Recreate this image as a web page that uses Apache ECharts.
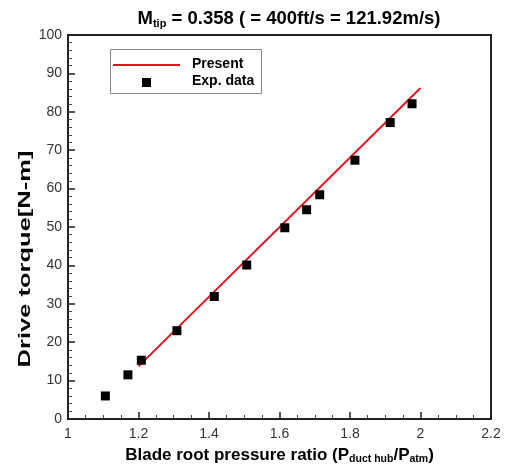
<!DOCTYPE html>
<html><head><meta charset="utf-8">
<script src="https://cdn.jsdelivr.net/npm/echarts@6/dist/echarts.min.js"></script>
<style>html,body{margin:0;padding:0;background:#fff}#c{width:505px;height:470px}</style>
</head><body><div id="c"></div>
<script>
var expX = [1.106, 1.170, 1.208, 1.309, 1.415, 1.507, 1.615, 1.677, 1.714, 1.814, 1.914, 1.976];
var expY = [6.0, 11.5, 15.3, 23.0, 31.9, 40.1, 49.8, 54.5, 58.4, 67.4, 77.2, 82.1];
var presentX = [1.2, 2.0];
var presentY = [13.7, 86.2];
var seriesNames = ['Present', 'Exp. data'];
var yAxisTitle = 'Drive torque[N-m]';

var chart = echarts.init(document.getElementById('c'), null, {renderer:'canvas'});
var F = 'Liberation Sans, Arial, sans-serif';
var opt = {
  animation: false,
  title: {
    text: '{m|M}{s|tip}{t| = 0.358 ( = 400ft/s = 121.92m/s)}',
    left: 284, top: 3, textAlign: 'center',
    textStyle: {
      rich: {
        m: {fontFamily: F, fontWeight: 'bold', fontSize: 18.5, color: '#000'},
        s: {fontFamily: F, fontWeight: 'bold', fontSize: 11, color: '#000', padding: [10, 0, 0, 0]},
        t: {fontFamily: F, fontWeight: 'bold', fontSize: 18.5, color: '#000'}
      }
    }
  },
  grid: {left: 68, right: 14, top: 35, bottom: 50, show: true, borderColor: '#222', borderWidth: 2, backgroundColor: 'transparent'},
  xAxis: {
    type: 'value', min: 1, max: 2.2, interval: 0.2,
    name: '{a|Blade root pressure ratio (P}{s|duct hub}{a|/P}{s|atm}{a|)}',
    nameLocation: 'middle', nameGap: 26,
    nameTextStyle: {rich: {
      a: {fontFamily: F, fontWeight: 'bold', fontSize: 17, color: '#000'},
      s: {fontFamily: F, fontWeight: 'bold', fontSize: 10.5, color: '#000', padding: [9, 0, 0, 0]}
    }},
    axisLine: {show: true, onZero: false, lineStyle: {color: '#222', width: 2}},
    axisTick: {show: true, inside: true, length: 7, lineStyle: {color: '#222', width: 1.5}},
    minorTick: {show: true, splitNumber: 4, length: 4, lineStyle: {color: '#444', width: 1}},
    splitLine: {show: false},
    axisLabel: {fontFamily: F, fontSize: 14, color: '#333', margin: 8,
      formatter: function (v) { return String(Math.round(v * 10) / 10); }}
  },
  yAxis: {
    type: 'value', min: 0, max: 100, interval: 10,
    axisLine: {show: true, onZero: false, lineStyle: {color: '#222', width: 2}},
    axisTick: {show: true, inside: true, length: 7, lineStyle: {color: '#222', width: 1.5}},
    minorTick: {show: true, splitNumber: 5, length: 4, lineStyle: {color: '#444', width: 1}},
    splitLine: {show: false},
    axisLabel: {fontFamily: F, fontSize: 14, color: '#333', margin: 6}
  },
  series: [
    {name: seriesNames[0], type: 'line', showSymbol: false, symbol: 'none',
     lineStyle: {color: '#e0141e', width: 2}, z: 2,
     data: presentX.map(function (x, i) { return [x, presentY[i]]; })},
    {name: seriesNames[1], type: 'scatter', symbol: 'rect', symbolSize: 9,
     itemStyle: {color: '#000', opacity: 1}, z: 3,
     data: expX.map(function (x, i) { return [x, expY[i]]; })}
  ],
  graphic: [
    {type: 'text', x: 25, y: 259, rotation: Math.PI / 2, scaleX: 1.5, scaleY: 1,
     style: {text: yAxisTitle, font: 'bold 17px ' + F, fill: '#000', align: 'center', verticalAlign: 'middle'}, z: 11},
    {type: 'rect', shape: {x: 110.5, y: 49.5, width: 151, height: 44}, style: {fill: '#fff', stroke: '#888', lineWidth: 1}, z: 10},
    {type: 'line', shape: {x1: 113, y1: 65, x2: 180, y2: 65}, style: {stroke: '#e0141e', lineWidth: 2}, z: 11},
    {type: 'rect', shape: {x: 142, y: 78, width: 9, height: 9}, style: {fill: '#000'}, z: 11},
    {type: 'text', left: 192, top: 57, style: {text: seriesNames[0], font: 'bold 14px ' + F, fill: '#000'}, z: 11},
    {type: 'text', left: 192, top: 74, style: {text: seriesNames[1], font: 'bold 14px ' + F, fill: '#000'}, z: 11}
  ]
};
chart.setOption(opt);
</script></body></html>
